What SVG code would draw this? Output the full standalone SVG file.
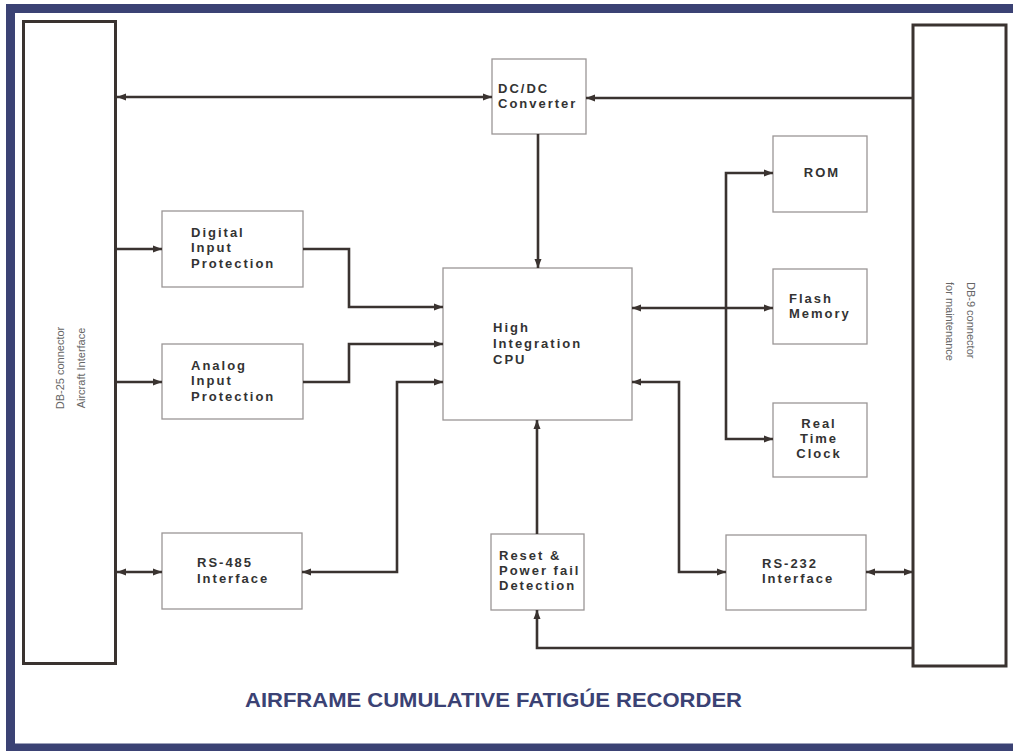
<svg xmlns="http://www.w3.org/2000/svg" width="1013" height="751" viewBox="0 0 1013 751">
<style>
.frame{fill:none;stroke:#3b4274;stroke-width:9}
.conn{fill:#fff;stroke:#3a3330;stroke-width:3}
.box{fill:#fff;stroke:#9a9696;stroke-width:1.3}
.lbl{font-family:"Liberation Sans",Arial,sans-serif;font-weight:bold;font-size:13px;letter-spacing:2px;fill:#333}
.side{font-family:"Liberation Sans",Arial,sans-serif;font-size:11px;fill:#666}
.wire{fill:none;stroke:#3a3330;stroke-width:2.6}
.title{font-family:"Liberation Sans",Arial,sans-serif;font-weight:bold;font-size:21px;fill:#3b4274}
</style>
<defs>
<marker id="ah" markerUnits="userSpaceOnUse" markerWidth="10" markerHeight="8" refX="9" refY="4" orient="auto-start-reverse">
<path d="M0,0.5 L9,4 L0,7.5 z" fill="#3a3330"/>
</marker>
</defs>
<rect x="0" y="0" width="1013" height="751" fill="#fff"/>
<rect class="frame" x="10.5" y="8.5" width="1100" height="739.5"/>

<g id="db25">
<rect class="conn" x="23.5" y="21.5" width="92" height="642"/>
<text class="side" transform="translate(64,368) rotate(-90)" text-anchor="middle">DB-25 connector</text>
<text class="side" transform="translate(85,368) rotate(-90)" text-anchor="middle">Aircraft Interface</text>
</g>
<g id="db9">
<rect class="conn" x="913" y="25" width="93" height="641"/>
<text class="side" transform="translate(967,282) rotate(90)">DB-9 connector</text>
<text class="side" transform="translate(946,282) rotate(90)">for maintenance</text>
</g>

<g id="dcdc">
<rect class="box" x="492" y="59" width="94" height="75"/>
<text class="lbl" x="498" y="93">DC/DC</text>
<text class="lbl" x="498" y="108">Converter</text>
</g>
<g id="digital">
<rect class="box" x="162" y="211" width="141" height="76"/>
<text class="lbl" x="191" y="237">Digital</text>
<text class="lbl" x="191" y="252">Input</text>
<text class="lbl" x="191" y="268">Protection</text>
</g>
<g id="analog">
<rect class="box" x="162" y="344" width="141" height="75"/>
<text class="lbl" x="191" y="370">Analog</text>
<text class="lbl" x="191" y="385">Input</text>
<text class="lbl" x="191" y="401">Protection</text>
</g>
<g id="cpu">
<rect class="box" x="443" y="268" width="189" height="152"/>
<text class="lbl" x="493" y="332">High</text>
<text class="lbl" x="493" y="348">Integration</text>
<text class="lbl" x="493" y="364">CPU</text>
</g>
<g id="rom">
<rect class="box" x="773" y="136" width="94" height="76"/>
<text class="lbl" x="822" y="177" text-anchor="middle">ROM</text>
</g>
<g id="flash">
<rect class="box" x="773" y="269" width="94" height="75"/>
<text class="lbl" x="789" y="303">Flash</text>
<text class="lbl" x="789" y="318">Memory</text>
</g>
<g id="rtc">
<rect class="box" x="773" y="403" width="94" height="74"/>
<text class="lbl" x="819" y="428" text-anchor="middle">Real</text>
<text class="lbl" x="819" y="443" text-anchor="middle">Time</text>
<text class="lbl" x="819" y="458" text-anchor="middle">Clock</text>
</g>
<g id="rs485">
<rect class="box" x="162" y="533" width="140" height="76"/>
<text class="lbl" x="197" y="567">RS-485</text>
<text class="lbl" x="197" y="583">Interface</text>
</g>
<g id="reset">
<rect class="box" x="491" y="534" width="93" height="76"/>
<text class="lbl" x="499" y="560">Reset &amp;</text>
<text class="lbl" x="499" y="575">Power fail</text>
<text class="lbl" x="499" y="590">Detection</text>
</g>
<g id="rs232">
<rect class="box" x="726" y="535" width="140" height="75"/>
<text class="lbl" x="762" y="568">RS-232</text>
<text class="lbl" x="762" y="583">Interface</text>
</g>

<g id="connectors">
<path class="wire" d="M117,97 L492,97" marker-start="url(#ah)" marker-end="url(#ah)"/>
<path class="wire" d="M913,98 L586,98" marker-end="url(#ah)"/>
<path class="wire" d="M538,134 L538,268" marker-end="url(#ah)"/>
<path class="wire" d="M117,249 L162,249" marker-end="url(#ah)"/>
<path class="wire" d="M303,249 L349,249 L349,307 L443,307" marker-end="url(#ah)"/>
<path class="wire" d="M117,382 L162,382" marker-end="url(#ah)"/>
<path class="wire" d="M303,382 L349,382 L349,344 L443,344" marker-end="url(#ah)"/>
<path class="wire" d="M302,572 L397,572 L397,382 L443,382" marker-start="url(#ah)" marker-end="url(#ah)"/>
<path class="wire" d="M117,572 L162,572" marker-start="url(#ah)" marker-end="url(#ah)"/>
<path class="wire" d="M632,308 L773,308" marker-start="url(#ah)" marker-end="url(#ah)"/>
<path class="wire" d="M773,173 L726,173 L726,439 L773,439" marker-start="url(#ah)" marker-end="url(#ah)"/>
<path class="wire" d="M632,382 L679,382 L679,572 L726,572" marker-start="url(#ah)" marker-end="url(#ah)"/>
<path class="wire" d="M866,572 L913,572" marker-start="url(#ah)" marker-end="url(#ah)"/>
<path class="wire" d="M913,648 L537,648 L537,610" marker-end="url(#ah)"/>
<path class="wire" d="M537,534 L537,420" marker-end="url(#ah)"/>
</g>

<text class="title" x="245" y="707" textLength="497" lengthAdjust="spacingAndGlyphs">AIRFRAME CUMULATIVE FATIGÚE RECORDER</text>
</svg>
